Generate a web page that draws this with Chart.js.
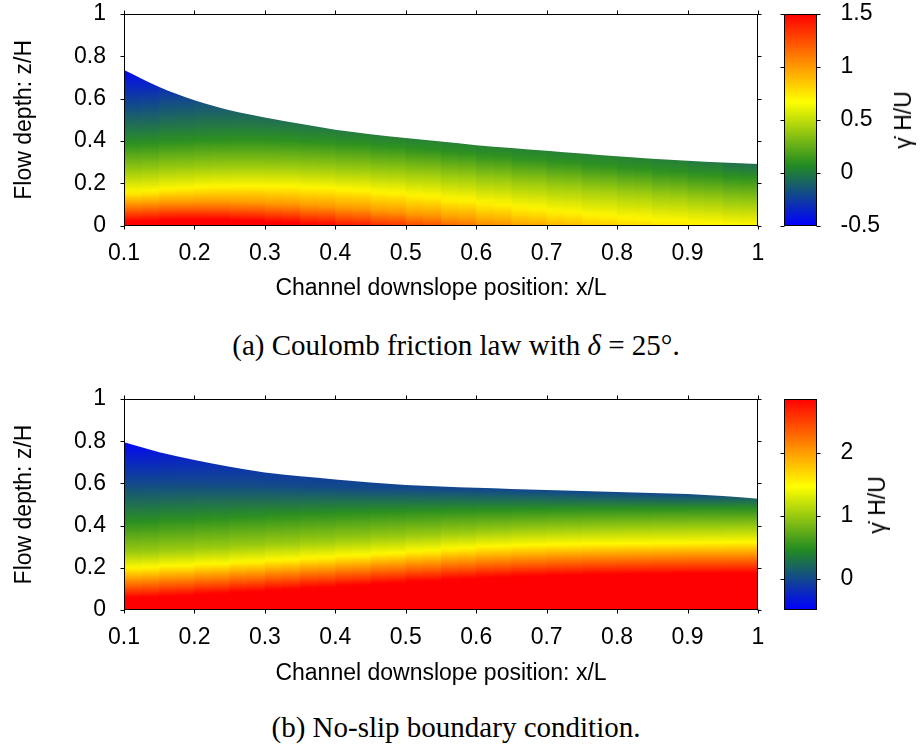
<!DOCTYPE html>
<html>
<head>
<meta charset="utf-8">
<script src="https://cdn.jsdelivr.net/npm/chart.js@4.4.1/dist/chart.umd.min.js"></script>
<style>
html,body{margin:0;padding:0;background:#fff;}
#wrap{position:relative;width:920px;height:749px;overflow:hidden;background:#fff;}
canvas{position:absolute;}
.cap{position:absolute;left:0;width:912px;text-align:center;font-family:"Liberation Serif","DejaVu Serif",serif;font-size:29px;line-height:32px;color:#000;white-space:nowrap;}
.cbt{position:absolute;font-family:"Liberation Sans",Arial,sans-serif;font-size:23px;line-height:26px;color:#000;white-space:nowrap;transform:translate(-50%,-50%) rotate(-90deg);}
</style>
</head>
<body>
<div id="wrap">
  <canvas id="mainA" width="770" height="302" style="left:0;top:0"></canvas>
  <canvas id="cbA" width="160" height="240" style="left:760px;top:0"></canvas>
  <div class="cbt" style="left:903px;top:120px">γ̇ H/U</div>
  <div class="cap" style="top:329px">(a) Coulomb friction law with <i>δ</i> = 25°.</div>

  <canvas id="mainB" width="770" height="302" style="left:0;top:385px"></canvas>
  <canvas id="cbB" width="160" height="240" style="left:760px;top:385px"></canvas>
  <div class="cbt" style="left:877px;top:505px">γ̇ H/U</div>
  <div class="cap" style="top:711px">(b) No-slip boundary condition.</div>
</div>
<script>
// ---------------- data ----------------
const xs = [0.10,0.15,0.20,0.25,0.30,0.35,0.40,0.45,0.50,0.55,0.60,0.65,0.70,0.75,0.80,0.85,0.90,0.95,1.00];

const xTickValues = [0.1,0.2,0.3,0.4,0.5,0.6,0.7,0.8,0.9,1.0];
const xTickLabels = ['0.1','0.2','0.3','0.4','0.5','0.6','0.7','0.8','0.9','1'];
const yTickValues = [0,0.2,0.4,0.6,0.8,1];
const yTickLabels = ['0','0.2','0.4','0.6','0.8','1'];

// (a) Coulomb friction: free surface and heights z/H of iso-levels of the shear rate
const surfaceA = [0.735,0.655,0.592,0.545,0.511,0.481,0.453,0.432,0.414,0.397,0.380,0.367,0.354,0.341,0.328,0.316,0.306,0.298,0.291];
const levelValuesA = [1.5, 1.25, 1.0, 0.7, 0.4, 0.1, -0.2, -0.45];
const isoA_p150 = [0.015,0.025,0.030,0.028,0.022,0.012,-0.005,-0.020,-0.040,-0.065,-0.090,-0.120,-0.150,-0.180,-0.210,-0.240,-0.260,-0.270,-0.270];
const isoA_p125 = [0.058,0.066,0.070,0.068,0.063,0.055,0.042,0.028,0.012,-0.008,-0.030,-0.055,-0.080,-0.110,-0.140,-0.165,-0.185,-0.190,-0.190];
const isoA_p100 = [0.100,0.108,0.112,0.112,0.108,0.100,0.090,0.077,0.062,0.045,0.025,0.000,-0.020,-0.045,-0.070,-0.090,-0.105,-0.110,-0.110];
const isoA_p070 = [0.150,0.168,0.180,0.187,0.188,0.184,0.176,0.165,0.152,0.136,0.117,0.097,0.077,0.060,0.045,0.031,0.019,0.009,0.000];
const isoA_p040 = [0.250,0.265,0.275,0.280,0.280,0.277,0.270,0.262,0.252,0.240,0.226,0.210,0.195,0.180,0.165,0.150,0.135,0.120,0.105];
const isoA_p010 = [0.380,0.390,0.400,0.405,0.405,0.400,0.393,0.383,0.370,0.355,0.340,0.325,0.310,0.295,0.280,0.265,0.250,0.237,0.225];
const isoA_m020 = [0.560,0.580,0.600,0.610,0.610,0.600,0.590,0.590,0.580,0.570,0.560,0.550,0.540,0.530,0.520,0.500,0.460,0.410,0.360];
const isoA_m045 = [0.720,0.730,0.760,0.800,0.840,0.880,0.900,0.900,0.900,0.900,0.900,0.900,0.900,0.900,0.900,0.900,0.900,0.900,0.900];
const cbRangeA = [-0.5, 1.5];
const cbTickValuesA = [-0.5, 0, 0.5, 1, 1.5];
const cbTickLabelsA = ['-0.5','0','0.5','1','1.5'];

// (b) No-slip
const surfaceB = [0.795,0.748,0.711,0.679,0.652,0.634,0.619,0.604,0.592,0.585,0.579,0.574,0.569,0.564,0.559,0.555,0.550,0.540,0.527];
const levelValuesB = [2.85, 2.3, 1.9, 1.5, 1.0, 0.5, 0.0, -0.45];
const isoB_p285 = [0.055,0.062,0.070,0.080,0.090,0.100,0.110,0.120,0.130,0.140,0.150,0.157,0.162,0.166,0.169,0.171,0.172,0.173,0.174];
const isoB_p230 = [0.112,0.120,0.128,0.138,0.148,0.158,0.168,0.178,0.188,0.198,0.208,0.216,0.222,0.226,0.229,0.231,0.233,0.234,0.235];
const isoB_p190 = [0.153,0.162,0.170,0.180,0.190,0.200,0.210,0.220,0.230,0.241,0.252,0.260,0.265,0.269,0.272,0.274,0.276,0.277,0.278];
const isoB_p150 = [0.195,0.205,0.213,0.222,0.232,0.242,0.252,0.262,0.272,0.285,0.297,0.305,0.310,0.313,0.315,0.317,0.318,0.320,0.322];
const isoB_p100 = [0.270,0.280,0.290,0.300,0.310,0.320,0.330,0.340,0.350,0.360,0.370,0.378,0.384,0.388,0.391,0.393,0.395,0.396,0.397];
const isoB_p050 = [0.410,0.420,0.430,0.438,0.445,0.452,0.458,0.463,0.467,0.470,0.473,0.475,0.477,0.478,0.479,0.480,0.480,0.480,0.480];
const isoB_p000 = [0.600,0.600,0.600,0.598,0.595,0.590,0.585,0.580,0.577,0.575,0.572,0.569,0.565,0.561,0.557,0.553,0.550,0.550,0.560];
const isoB_m045 = [0.790,0.800,0.820,0.840,0.860,0.880,0.900,0.900,0.900,0.900,0.900,0.900,0.900,0.900,0.900,0.900,0.900,0.900,0.900];
const cbRangeB = [-0.5, 2.85];
const cbTickValuesB = [0, 1, 2];
const cbTickLabelsB = ['0','1','2'];

// ---------------- style ----------------
const PAL = [[0,[0,0,255]],[0.285,[34,139,34]],[0.585,[255,255,0]],[1,[255,0,0]]];
function palette(n, alpha){
  n = Math.max(0, Math.min(1, n));
  for (let i = 1; i < PAL.length; i++) {
    if (n <= PAL[i][0]) {
      const a = PAL[i-1], b = PAL[i];
      const t = (n - a[0]) / (b[0] - a[0]);
      const c = a[1].map((v,k) => Math.round(v + (b[1][k]-v)*t));
      return 'rgba(' + c.join(',') + ',' + alpha + ')';
    }
  }
  return 'rgba(255,0,0,' + alpha + ')';
}

Chart.defaults.font.family = '"Liberation Sans", Arial, sans-serif';
Chart.defaults.font.size = 23;
Chart.defaults.color = '#000';

const framePlugin = {
  id: 'frame',
  afterDatasetsDraw(chart, args, opts) {
    const ctx = chart.ctx, a = chart.chartArea;
    const L = Math.round(a.left) + 0.5, R = Math.round(a.right) - 0.5;
    const T = Math.round(a.top) + 0.5, B = Math.round(a.bottom) - 0.5;
    const tl = 4;
    ctx.save();
    ctx.strokeStyle = '#000';
    ctx.lineWidth = 1;
    ctx.strokeRect(L, T, R - L, B - T);
    ctx.beginPath();
    if (opts.xticks) {
      const sx = chart.scales.x;
      sx.ticks.forEach(t => {
        const px = Math.round(sx.getPixelForValue(t.value)) + 0.5;
        ctx.moveTo(px, B); ctx.lineTo(px, B + tl);
        ctx.moveTo(px, T); ctx.lineTo(px, T - tl);
      });
    }
    const sy = chart.scales.y;
    sy.ticks.forEach(t => {
      const py = Math.round(sy.getPixelForValue(t.value)) + 0.5;
      ctx.moveTo(L, py); ctx.lineTo(L - tl, py);
      ctx.moveTo(R, py); ctx.lineTo(R + tl, py);
    });
    ctx.stroke();
    ctx.restore();
  }
};

// vertical colour profile of one column, built from the iso-level heights
function columnFill(levelValues, isoLines, cbRange, alpha) {
  return (c) => {
    const chart = c.chart;
    if (!chart.chartArea || c.type !== 'data') return 'rgba(0,0,0,0)';
    const i = c.dataIndex;
    const sy = chart.scales.y;
    const zLo = -0.5, zHi = 1.2;
    const g = chart.ctx.createLinearGradient(0, sy.getPixelForValue(zLo), 0, sy.getPixelForValue(zHi));
    const stops = levelValues.map((v, k) => ({ z: isoLines[k][i], v })).sort((p, q) => p.z - q.z);
    stops.forEach(s => {
      const off = Math.max(0, Math.min(1, (s.z - zLo) / (zHi - zLo)));
      g.addColorStop(off, palette((s.v - cbRange[0]) / (cbRange[1] - cbRange[0]), alpha));
    });
    return g;
  };
}

function makeMain(id, surface, levelValues, isoLines, cbRange, xAxisH) {
  const tops = surface.map((h, i) => Math.max(h, i > 0 ? surface[i-1] : h, i < surface.length - 1 ? surface[i+1] : h));
  const colData = xs.map((x, i) => ({ x, y: tops[i] }));
  new Chart(document.getElementById(id), {
    type: 'bar',
    data: {
      datasets: [
        { // white above the free surface
          type: 'line',
          order: 0,
          data: xs.map((x, i) => ({ x, y: surface[i] })),
          fill: 'end',
          backgroundColor: '#ffffff',
          borderColor: 'rgba(0,0,0,0)',
          borderWidth: 0,
          pointRadius: 0,
          cubicInterpolationMode: 'monotone',
          clip: 0
        },
        { // half-transparent wide columns: blend neighbouring columns
          type: 'bar',
          order: 1,
          data: colData,
          backgroundColor: columnFill(levelValues, isoLines, cbRange, 0.5),
          borderWidth: 0,
          inflateAmount: 0,
          grouped: false,
          barPercentage: 2,
          categoryPercentage: 1,
          clip: 0
        },
        { // opaque columns
          type: 'bar',
          order: 2,
          data: colData,
          backgroundColor: columnFill(levelValues, isoLines, cbRange, 1),
          borderWidth: 0,
          grouped: false,
          barPercentage: 1.02,
          categoryPercentage: 1,
          clip: 0
        }
      ]
    },
    options: {
      responsive: false,
      animation: false,
      events: [],
      devicePixelRatio: 1,
      layout: { padding: { left: 0, right: 12, top: 14, bottom: 0 } },
      plugins: { legend: { display: false }, tooltip: { enabled: false }, frame: { xticks: true } },
      scales: {
        x: {
          type: 'linear', min: 0.1, max: 1.0, offset: false,
          afterBuildTicks: s => { s.ticks = xTickValues.map(v => ({ value: v })); },
          ticks: { callback: (v, i) => xTickLabels[i], padding: 0, maxRotation: 0, autoSkip: false },
          grid: { display: false, drawTicks: true, tickLength: 14 },
          border: { display: false },
          title: { display: true, text: 'Channel downslope position: x/L', padding: 0 },
          afterFit: s => { s.height = xAxisH; }
        },
        y: {
          type: 'linear', min: 0, max: 1,
          afterBuildTicks: s => { s.ticks = yTickValues.map(v => ({ value: v })); },
          ticks: { callback: (v, i) => yTickLabels[i], padding: 0 },
          grid: { display: false, drawTicks: true, tickLength: 18 },
          border: { display: false },
          title: { display: true, text: 'Flow depth: z/H', padding: { top: 11, bottom: 0 } },
          afterFit: s => { s.width = 124; }
        }
      }
    },
    plugins: [framePlugin]
  });
}

function makeColorbar(id, cbRange, tickValues, tickLabels, padBottom) {
  new Chart(document.getElementById(id), {
    type: 'bar',
    data: {
      labels: [''],
      datasets: [{
        data: [[cbRange[0], cbRange[1]]],
        backgroundColor: (c) => {
          const chart = c.chart;
          if (!chart.chartArea) return 'rgba(0,0,0,0)';
          const sy = chart.scales.y;
          const g = chart.ctx.createLinearGradient(0, sy.getPixelForValue(cbRange[0]), 0, sy.getPixelForValue(cbRange[1]));
          PAL.forEach(p => g.addColorStop(p[0], 'rgb(' + p[1].join(',') + ')'));
          return g;
        },
        borderWidth: 0,
        barPercentage: 1,
        categoryPercentage: 1,
        clip: 0
      }]
    },
    options: {
      responsive: false,
      animation: false,
      events: [],
      devicePixelRatio: 1,
      layout: { padding: { left: 24, right: 0, top: 14, bottom: padBottom } },
      plugins: { legend: { display: false }, tooltip: { enabled: false }, frame: { xticks: false } },
      scales: {
        x: { display: false },
        y: {
          position: 'right', min: cbRange[0], max: cbRange[1],
          afterBuildTicks: s => { s.ticks = tickValues.map(v => ({ value: v })); },
          ticks: { callback: (v, i) => tickLabels[i], padding: 0 },
          grid: { display: false, drawTicks: true, tickLength: 24 },
          border: { display: false },
          afterFit: s => { s.width = 103.5; }
        }
      }
    },
    plugins: [framePlugin]
  });
}

makeMain('mainA', surfaceA, levelValuesA,
  [isoA_p150, isoA_p125, isoA_p100, isoA_p070, isoA_p040, isoA_p010, isoA_m020, isoA_m045], cbRangeA, 76.4);
makeMain('mainB', surfaceB, levelValuesB,
  [isoB_p285, isoB_p230, isoB_p190, isoB_p150, isoB_p100, isoB_p050, isoB_p000, isoB_m045], cbRangeB, 77);
makeColorbar('cbA', cbRangeA, cbTickValuesA, cbTickLabelsA, 14.4);
makeColorbar('cbB', cbRangeB, cbTickValuesB, cbTickLabelsB, 15);
</script>
</body>
</html>
